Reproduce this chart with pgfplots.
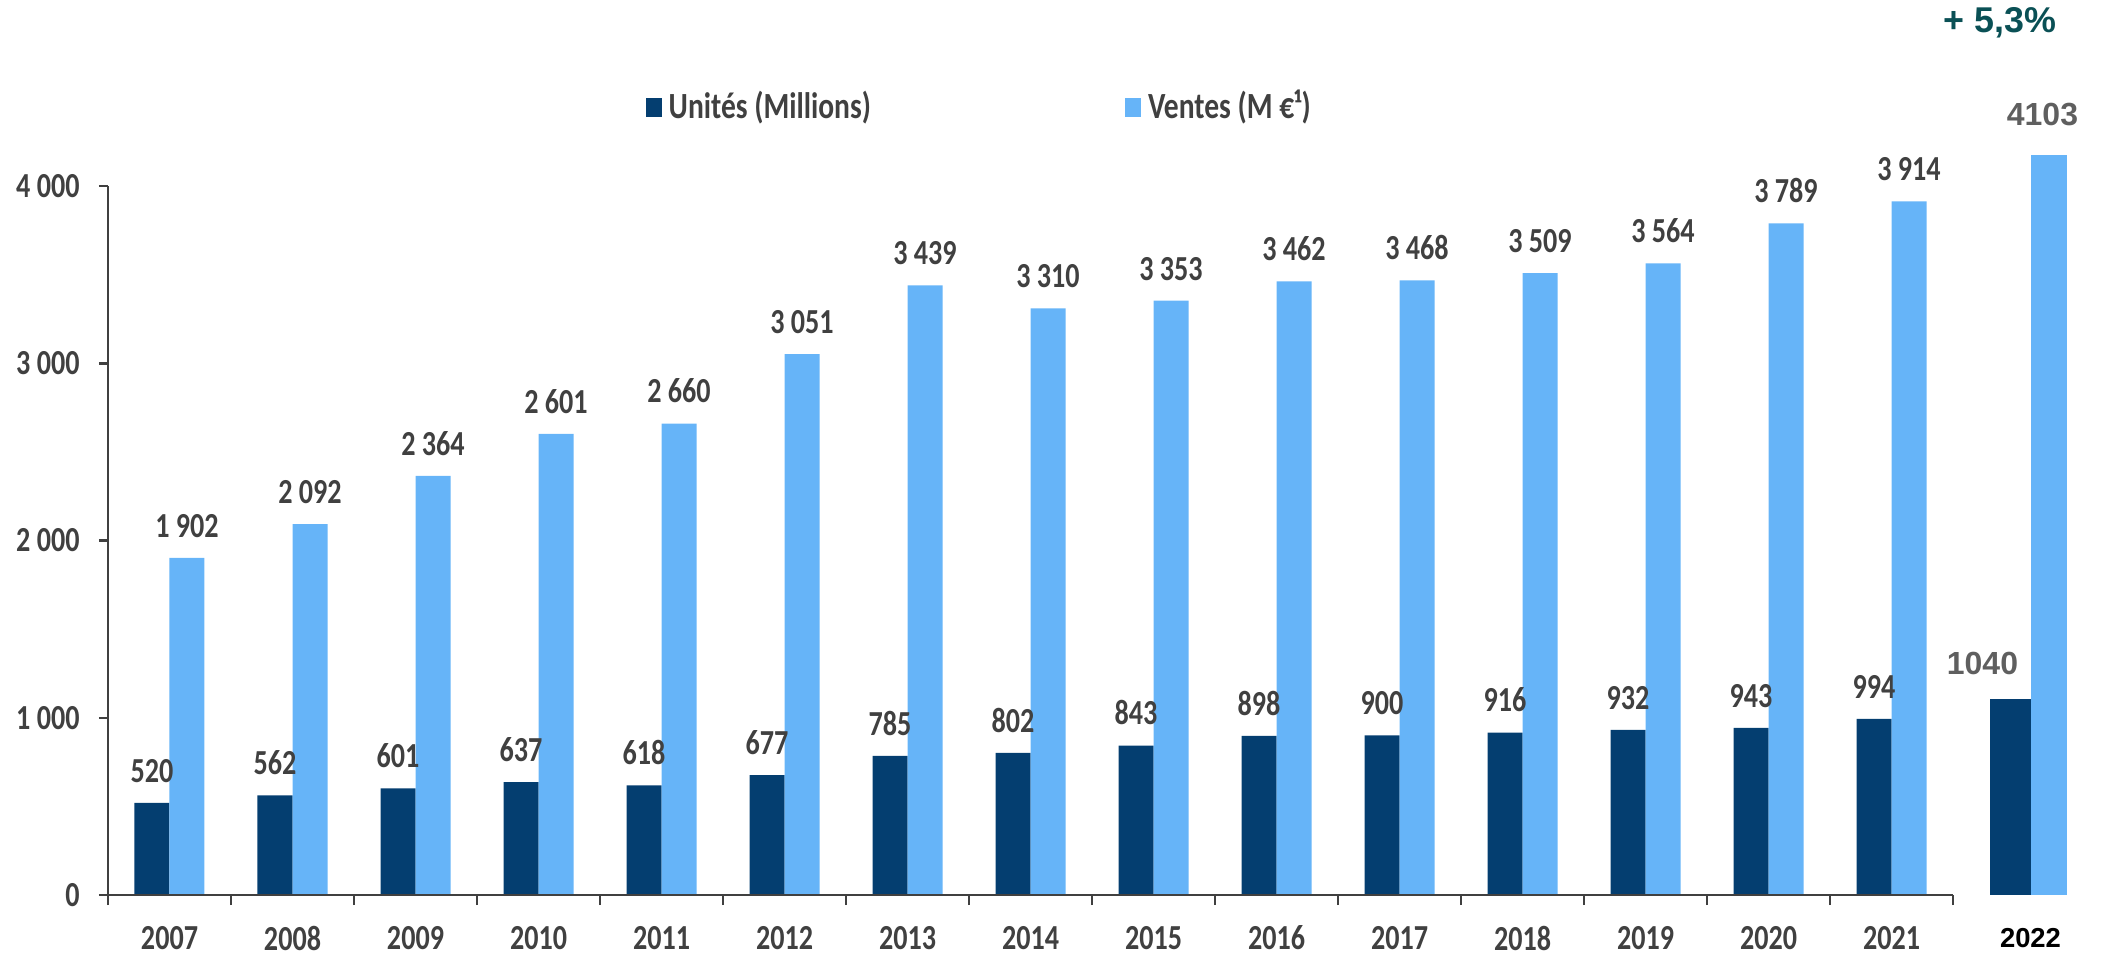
\documentclass[border=0pt]{standalone}
\usepackage{fontspec}
\usepackage{pgfplots}
\pgfplotsset{compat=1.18}
\newfontfamily\calfont{Carlito}[FakeStretch=0.8]
\newfontfamily\arialfont{Liberation Sans}
\definecolor{unites}{RGB}{4,62,112}
\definecolor{ventes}{RGB}{102,180,248}
\definecolor{lbl}{RGB}{64,64,64}
\definecolor{lblb}{RGB}{95,95,95}
\definecolor{pct}{RGB}{10,80,85}

\begin{document}
\begin{tikzpicture}
\begin{axis}[
  at={(10.8mm,5.9mm)}, anchor=south west,
  scale only axis, width=202.95mm, height=70.9mm,
  xmin=-0.5, xmax=16, ymin=0, ymax=4000,
  clip=false,
  axis x line=bottom, axis y line=left,
  x axis line style={draw=none},
  y axis line style={-, draw=lbl, line width=0.25mm},
  tick align=outside,
  xtick={0,1,2,3,4,5,6,7,8,9,10,11,12,13,14,15.13},
  xticklabels={2007,2008,2009,2010,2011,2012,2013,2014,2015,2016,2017,2018,2019,2020,2021,
    {\arialfont\bfseries\fontsize{7.8}{9}\selectfont\color{black}2022}},
  major x tick style={draw=none},
  minor xtick={-0.5,0.5,...,14.5},
  minor x tick style={draw=lbl, line width=0.25mm},
  minor tick length=1mm, major tick length=0.9mm,
  ytick={0,1000,2000,3000,4000},
  yticklabels={0,1 000,2 000,3 000,4 000},
  ytick style={draw=lbl, line width=0.25mm},
  tick label style={font=\calfont\bfseries\fontsize{10}{12}\selectfont, text=lbl},
  xticklabel style={anchor=center, inner sep=0pt, yshift=-3.4mm},
  yticklabel style={xshift=-0.7mm},
  /pgf/number format/assume math mode=true,
  /pgf/number format/1000 sep={\ },
  nodes near coords,
  every node near coord/.append style={font=\calfont\bfseries\fontsize{10}{12}\selectfont, text=lbl, yshift=0.8mm},
  legend columns=2,
  legend style={at={(0.2646,1.1114)}, anchor=west, draw=none, fill=none, inner sep=0pt,
    font=\calfont\bfseries\fontsize{10.5}{12}\selectfont, text=lbl,
    /tikz/every even column/.append style={column sep=24.7mm}},
  legend image code/.code={\fill[#1,draw=none] (0mm,-0.95mm) rectangle (1.6mm,0.95mm);},
]
\addplot[ybar, fill=unites, draw=none, bar width=3.5mm, bar shift=-1.75mm,
  every node near coord/.append style={xshift=-1.75mm}] coordinates {
  (0,520) (1,562) (2,601) (3,637) (4,618) (5,677) (6,785) (7,802)
  (8,843) (9,898) (10,900) (11,916) (12,932) (13,943) (14,994)};
\addlegendentry{Unités (Millions)}
\addplot[ybar, fill=ventes, draw=none, bar width=3.5mm, bar shift=1.75mm,
  every node near coord/.append style={xshift=1.75mm}] coordinates {
  (0,1902) (1,2092) (2,2364) (3,2601) (4,2660) (5,3051) (6,3439) (7,3310)
  (8,3353) (9,3462) (10,3468) (11,3509) (12,3564) (13,3789) (14,3914)};
\addlegendentry{Ventes (M €¹)}
% 2022 drawn apart, off the axis line
\addplot[ybar, forget plot, fill=unites, draw=none, bar width=4.1mm, bar shift=-2.05mm,
  point meta=explicit, /pgf/number format/1000 sep={},
  every node near coord/.append style={font=\arialfont\bfseries\fontsize{9.1}{11}\selectfont, text=lblb, yshift=0.4mm, xshift=-4.8mm}]
  coordinates {(15.13,1106) [1040]};
\addplot[ybar, forget plot, fill=ventes, draw=none, bar width=3.6mm, bar shift=1.8mm,
  point meta=explicit, /pgf/number format/1000 sep={},
  every node near coord/.append style={font=\arialfont\bfseries\fontsize{9.1}{11}\selectfont, text=lblb, yshift=0.9mm, xshift=1.2mm}]
  coordinates {(15.13,4175) [4103]};
\draw[lbl, line width=0.25mm] (axis cs:-0.5,0) -- (axis cs:14.5,0);
\node[font=\arialfont\bfseries\fontsize{10.2}{12}\selectfont, text=pct] at (axis cs:14.88,4920) {+ 5,3\%};
\end{axis}
\pgfresetboundingbox
\path (0,0) rectangle (210.3mm,95.4mm);
\end{tikzpicture}
\end{document}
